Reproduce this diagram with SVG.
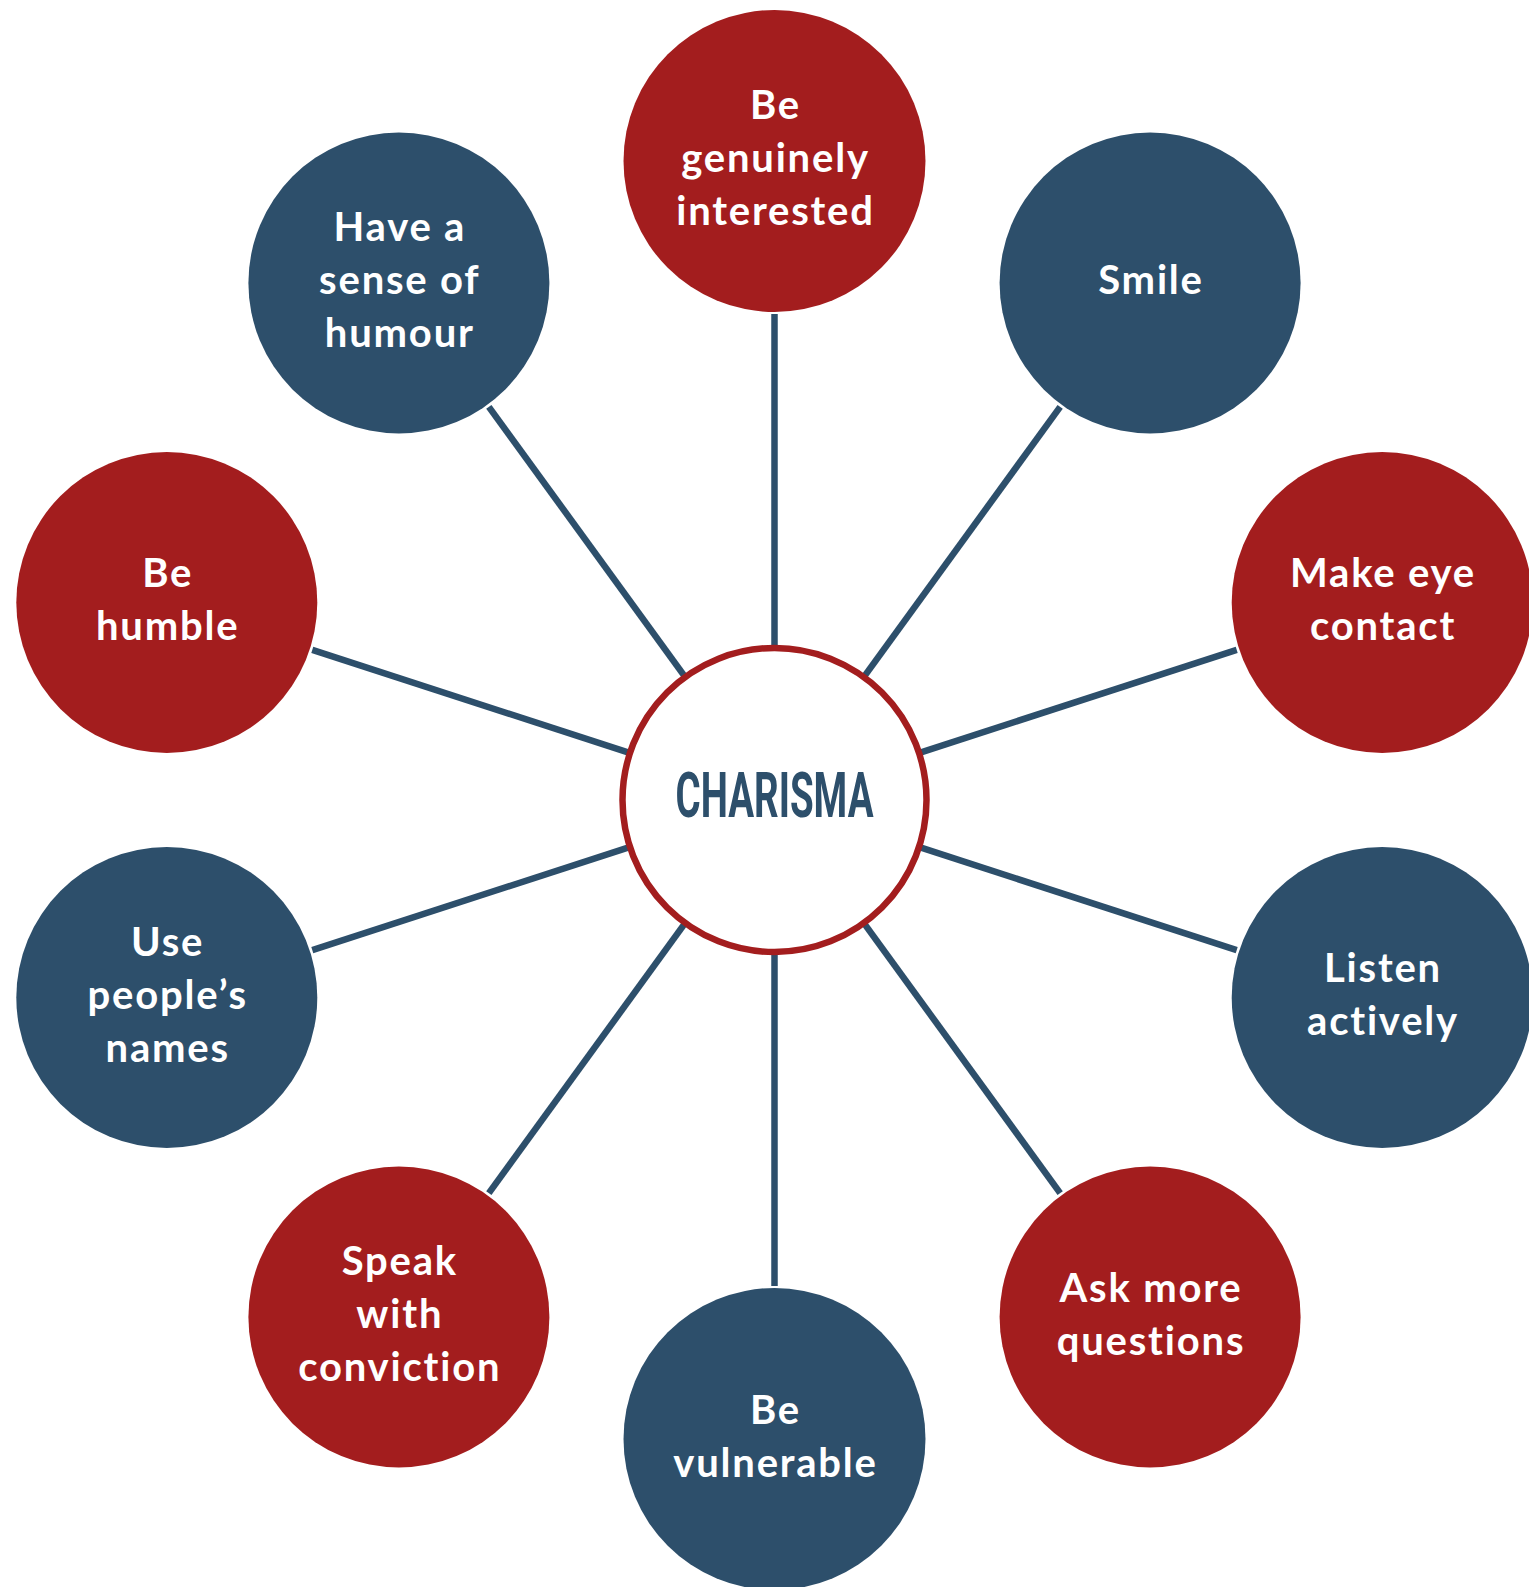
<svg xmlns="http://www.w3.org/2000/svg" width="1529" height="1587" viewBox="0 0 1529 1587">
  <style>
    .red { fill: #A31D1E; }
    .blue { fill: #2D4F6B; }
    .lbl { font-family: "Lato", "Liberation Sans", sans-serif; font-weight: 700; font-size: 40px; fill: #FFFFFF; text-anchor: middle; letter-spacing: 1.8px; }
    .hub { font-family: "Roboto", "Liberation Sans", sans-serif; font-weight: 700; font-size: 63px; fill: #2D4F6B; text-anchor: middle; }
    .spoke { stroke: #2D4F6B; stroke-width: 6.5; fill: none; }
  </style>
  <rect width="1529" height="1587" fill="#FFFFFF"/>

  <!-- spokes from the hub out to each trait -->
  <g id="connectors" transform="translate(774.5,800)">
    <line class="spoke" x1="0" y1="-150" x2="0" y2="-486" transform="rotate(0)"/>
    <line class="spoke" x1="0" y1="-150" x2="0" y2="-486" transform="rotate(36)"/>
    <line class="spoke" x1="0" y1="-150" x2="0" y2="-486" transform="rotate(72)"/>
    <line class="spoke" x1="0" y1="-150" x2="0" y2="-486" transform="rotate(108)"/>
    <line class="spoke" x1="0" y1="-150" x2="0" y2="-486" transform="rotate(144)"/>
    <line class="spoke" x1="0" y1="-150" x2="0" y2="-486" transform="rotate(180)"/>
    <line class="spoke" x1="0" y1="-150" x2="0" y2="-486" transform="rotate(216)"/>
    <line class="spoke" x1="0" y1="-150" x2="0" y2="-486" transform="rotate(252)"/>
    <line class="spoke" x1="0" y1="-150" x2="0" y2="-486" transform="rotate(288)"/>
    <line class="spoke" x1="0" y1="-150" x2="0" y2="-486" transform="rotate(324)"/>
  </g>

  <g id="hub">
    <circle cx="774.5" cy="800" r="152" fill="#FFFFFF" stroke="#A31D1E" stroke-width="6.5"/>
    <text class="hub" x="774.5" y="817" textLength="198" lengthAdjust="spacingAndGlyphs">CHARISMA</text>
  </g>

  <g id="genuinely-interested">
    <circle class="red" cx="774.5" cy="161" r="151"/>
    <text class="lbl" x="775.5" y="119">Be</text>
    <text class="lbl" x="775.5" y="172">genuinely</text>
    <text class="lbl" x="775.5" y="225">interested</text>
  </g>

  <g id="smile">
    <circle class="blue" cx="1150.1" cy="283" r="150.5"/>
    <text class="lbl" x="1151" y="294">Smile</text>
  </g>

  <g id="eye-contact">
    <circle class="red" cx="1382.2" cy="602.5" r="150.5"/>
    <text class="lbl" x="1383" y="587">Make eye</text>
    <text class="lbl" x="1383" y="640">contact</text>
  </g>

  <g id="listen-actively">
    <circle class="blue" cx="1382.2" cy="997.5" r="150.5"/>
    <text class="lbl" x="1383" y="982">Listen</text>
    <text class="lbl" x="1383" y="1035">actively</text>
  </g>

  <g id="ask-questions">
    <circle class="red" cx="1150.1" cy="1317" r="150.5"/>
    <text class="lbl" x="1151" y="1301.5">Ask more</text>
    <text class="lbl" x="1151" y="1354.5">questions</text>
  </g>

  <g id="vulnerable">
    <circle class="blue" cx="774.5" cy="1439" r="151"/>
    <text class="lbl" x="775.5" y="1424">Be</text>
    <text class="lbl" x="775.5" y="1477">vulnerable</text>
  </g>

  <g id="conviction">
    <circle class="red" cx="398.9" cy="1317" r="150.5"/>
    <text class="lbl" x="399.8" y="1275">Speak</text>
    <text class="lbl" x="399.8" y="1328">with</text>
    <text class="lbl" x="399.8" y="1381">conviction</text>
  </g>

  <g id="names">
    <circle class="blue" cx="166.8" cy="997.5" r="150.5"/>
    <text class="lbl" x="167.7" y="955.5">Use</text>
    <text class="lbl" x="167.7" y="1008.5">people’s</text>
    <text class="lbl" x="167.7" y="1061.5">names</text>
  </g>

  <g id="humble">
    <circle class="red" cx="166.8" cy="602.5" r="150.5"/>
    <text class="lbl" x="167.7" y="587">Be</text>
    <text class="lbl" x="167.7" y="640">humble</text>
  </g>

  <g id="humour">
    <circle class="blue" cx="398.9" cy="283" r="150.5"/>
    <text class="lbl" x="399.8" y="241">Have a</text>
    <text class="lbl" x="399.8" y="294">sense of</text>
    <text class="lbl" x="399.8" y="347">humour</text>
  </g>
</svg>
